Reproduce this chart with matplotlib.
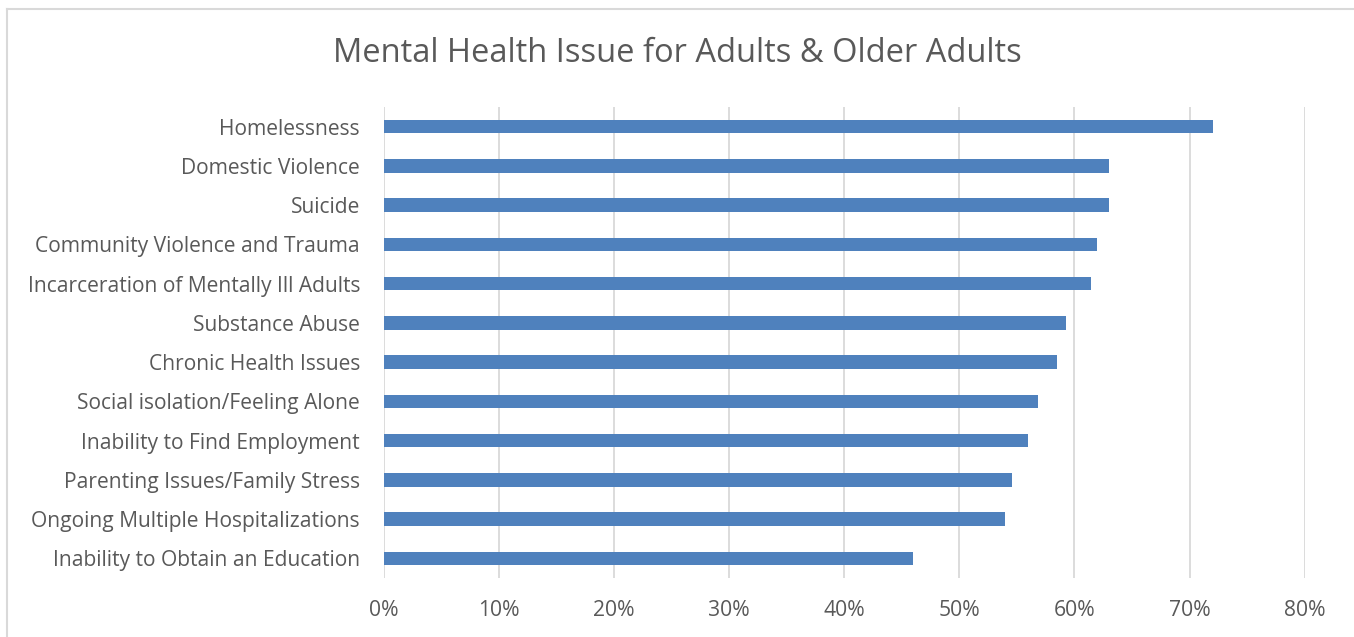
import matplotlib

matplotlib.use("Agg")
import matplotlib.pyplot as plt
from matplotlib.lines import Line2D
from matplotlib.ticker import PercentFormatter

TITLE = "Mental Health Issue for Adults & Older Adults"
ISSUES = [
    "Homelessness",
    "Domestic Violence",
    "Suicide",
    "Community Violence and Trauma",
    "Incarceration of Mentally Ill Adults",
    "Substance Abuse",
    "Chronic Health Issues",
    "Social isolation/Feeling Alone",
    "Inability to Find Employment",
    "Parenting Issues/Family Stress",
    "Ongoing Multiple Hospitalizations",
    "Inability to Obtain an Education",
]
SHARES = [0.72, 0.63, 0.63, 0.62, 0.614, 0.593, 0.585, 0.568, 0.56, 0.546, 0.54, 0.46]
XTICKS = [0, 0.1, 0.2, 0.3, 0.4, 0.5, 0.6, 0.7, 0.8]

TEXT = "#595959"
GRID = "#D9D9D9"
BAR = "#4F81BD"

plt.rcParams["font.family"] = ["Open Sans", "DejaVu Sans"]

W, H = 1354, 637
fig = plt.figure(figsize=(W / 100, H / 100), dpi=100)
ax = fig.add_axes([383.7 / W, (H - 578) / H, 921 / W, 471 / H])

y = list(range(len(ISSUES)))
ax.barh(y, SHARES, height=0.35, color=BAR, zorder=3)
ax.set_ylim(len(ISSUES) - 0.5, -0.5)
ax.set_xlim(0, 0.8)
ax.set_yticks(y)
ax.set_yticklabels(ISSUES, fontsize=15.1, color=TEXT)
ax.set_xticks(XTICKS)
ax.xaxis.set_major_formatter(PercentFormatter(1.0, decimals=0))
ax.tick_params(axis="x", length=0, pad=16, labelsize=15.2, labelcolor=TEXT)
ax.tick_params(axis="y", length=0, pad=17)
ax.grid(True, axis="x", color=GRID, linewidth=1.3, zorder=0)
for s in ax.spines.values():
    s.set_visible(False)

fig.text(0.5, 1 - 53 / H, TITLE, ha="center", va="center", fontsize=23.5, color=TEXT)

# chart-area border, only top and left edges fall inside the picture
fig.add_artist(Line2D([6.5 / W, 6.5 / W], [0, 1 - 8.5 / H], transform=fig.transFigure,
                      color=GRID, linewidth=1.5))
fig.add_artist(Line2D([6.5 / W, 1], [1 - 8.5 / H, 1 - 8.5 / H], transform=fig.transFigure,
                      color=GRID, linewidth=1.5))

fig.savefig("out.png", dpi=100)
